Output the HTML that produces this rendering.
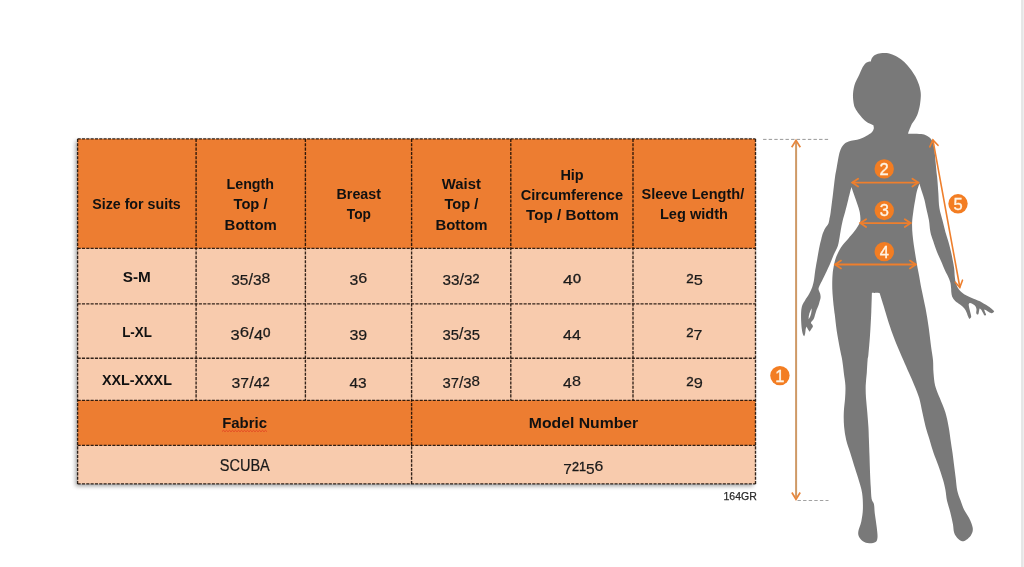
<!DOCTYPE html>
<html lang="en"><head><meta charset="utf-8"><title>Size chart</title>
<style>
html,body{margin:0;padding:0;background:#fff;}
body{width:1024px;height:567px;position:relative;overflow:hidden;font-family:"Liberation Sans",sans-serif;}
</style></head><body>
<svg width="1024" height="567" viewBox="0 0 1024 567" style="position:absolute;left:0;top:0">
<defs><filter id="sh" x="-5%" y="-5%" width="110%" height="110%"><feGaussianBlur stdDeviation="2"/></filter></defs>
<rect x="75.6" y="140.9" width="677.9" height="345.3" fill="#000" opacity="0.36" filter="url(#sh)"/>
<rect x="77.6" y="138.9" width="677.9" height="345.0" fill="#F8CBAD"/>
<rect x="77.6" y="138.9" width="677.9" height="109.4" fill="#ED7D31"/>
<rect x="77.6" y="400.3" width="677.9" height="45.1" fill="#ED7D31"/>
<g stroke="#170b05" stroke-opacity="0.88" stroke-width="1.35" stroke-dasharray="3.1 1.23" fill="none">
<path d="M77.6 138.9H755.5"/>
<path d="M77.6 248.3H755.5"/>
<path d="M77.6 303.8H755.5"/>
<path d="M77.6 358.2H755.5"/>
<path d="M77.6 400.3H755.5"/>
<path d="M77.6 445.4H755.5"/>
<path d="M77.6 483.9H755.5"/>
<path d="M77.6 138.9V483.9"/>
<path d="M196.1 138.9V400.3"/>
<path d="M305.4 138.9V400.3"/>
<path d="M411.6 138.9V483.9"/>
<path d="M510.8 138.9V400.3"/>
<path d="M633.0 138.9V400.3"/>
<path d="M755.5 138.9V483.9"/>
</g>
<g font-family="'Liberation Sans', sans-serif">
<text x="92.2" y="209.0" font-size="15.0" font-weight="700" fill="#111" textLength="88.6" lengthAdjust="spacingAndGlyphs">Size for suits</text>
<text x="226.5" y="188.5" font-size="15.0" font-weight="700" fill="#111" textLength="47.5" lengthAdjust="spacingAndGlyphs">Length</text>
<text x="233.5" y="209.0" font-size="15.0" font-weight="700" fill="#111" textLength="34.0" lengthAdjust="spacingAndGlyphs">Top /</text>
<text x="224.6" y="229.6" font-size="15.0" font-weight="700" fill="#111" textLength="52.3" lengthAdjust="spacingAndGlyphs">Bottom</text>
<text x="336.5" y="199.1" font-size="15.0" font-weight="700" fill="#111" textLength="44.5" lengthAdjust="spacingAndGlyphs">Breast</text>
<text x="346.8" y="219.4" font-size="15.0" font-weight="700" fill="#111" textLength="24.1" lengthAdjust="spacingAndGlyphs">Top</text>
<text x="441.8" y="188.6" font-size="15.0" font-weight="700" fill="#111" textLength="39.1" lengthAdjust="spacingAndGlyphs">Waist</text>
<text x="444.4" y="209.0" font-size="15.0" font-weight="700" fill="#111" textLength="33.9" lengthAdjust="spacingAndGlyphs">Top /</text>
<text x="435.4" y="229.7" font-size="15.0" font-weight="700" fill="#111" textLength="52.2" lengthAdjust="spacingAndGlyphs">Bottom</text>
<text x="560.4" y="179.6" font-size="15.0" font-weight="700" fill="#111" textLength="23.3" lengthAdjust="spacingAndGlyphs">Hip</text>
<text x="520.7" y="199.6" font-size="15.0" font-weight="700" fill="#111" textLength="102.4" lengthAdjust="spacingAndGlyphs">Circumference</text>
<text x="526.1" y="220.3" font-size="15.0" font-weight="700" fill="#111" textLength="92.7" lengthAdjust="spacingAndGlyphs">Top / Bottom</text>
<text x="641.6" y="198.9" font-size="15.0" font-weight="700" fill="#111" textLength="102.6" lengthAdjust="spacingAndGlyphs">Sleeve Length/</text>
<text x="659.9" y="219.3" font-size="15.0" font-weight="700" fill="#111" textLength="68.1" lengthAdjust="spacingAndGlyphs">Leg width</text>
<text x="122.8" y="282.2" font-size="15.0" font-weight="700" fill="#111" textLength="28.1" lengthAdjust="spacingAndGlyphs">S-M</text>
<text x="122.2" y="336.9" font-size="15.0" font-weight="700" fill="#111" textLength="29.7" lengthAdjust="spacingAndGlyphs">L-XL</text>
<text x="101.9" y="385.0" font-size="15.0" font-weight="700" fill="#111" textLength="70.0" lengthAdjust="spacingAndGlyphs">XXL-XXXL</text>
<text x="222.2" y="428.0" font-size="15.0" font-weight="700" fill="#111" textLength="44.8" lengthAdjust="spacingAndGlyphs">Fabric</text>
<text x="528.8" y="428.0" font-size="15.0" font-weight="700" fill="#111" textLength="109.4" lengthAdjust="spacingAndGlyphs">Model Number</text>
<text x="231.3" y="282.6" font-size="15.4" fill="#1a1a1a" stroke="#1a1a1a" stroke-width="0.2" textLength="39.0" lengthAdjust="spacingAndGlyphs"><tspan font-size="15.1" dy="2.8">3</tspan><tspan font-size="15.1" dy="0.0">5</tspan><tspan font-size="16.0" dy="-0.9">/</tspan><tspan font-size="15.1" dy="0.9">3</tspan><tspan font-size="15.4" dy="-2.8">8</tspan></text>
<text x="349.4" y="282.6" font-size="15.4" fill="#1a1a1a" stroke="#1a1a1a" stroke-width="0.2" textLength="17.8" lengthAdjust="spacingAndGlyphs"><tspan font-size="15.1" dy="2.8">3</tspan><tspan font-size="15.4" dy="-2.8">6</tspan></text>
<text x="442.5" y="282.6" font-size="15.4" fill="#1a1a1a" stroke="#1a1a1a" stroke-width="0.2" textLength="36.9" lengthAdjust="spacingAndGlyphs"><tspan font-size="15.1" dy="2.8">3</tspan><tspan font-size="15.1" dy="0.0">3</tspan><tspan font-size="16.0" dy="-0.9">/</tspan><tspan font-size="15.1" dy="0.9">3</tspan><tspan font-size="12.3" dy="-2.8" stroke-width="0.4">2</tspan></text>
<text x="563.1" y="282.6" font-size="15.4" fill="#1a1a1a" stroke="#1a1a1a" stroke-width="0.2" textLength="17.8" lengthAdjust="spacingAndGlyphs"><tspan font-size="15.1" dy="2.8">4</tspan><tspan font-size="12.3" dy="-2.8" stroke-width="0.4">0</tspan></text>
<text x="686.3" y="282.6" font-size="15.4" fill="#1a1a1a" stroke="#1a1a1a" stroke-width="0.2" textLength="16.5" lengthAdjust="spacingAndGlyphs"><tspan font-size="12.3" dy="0.0" stroke-width="0.4">2</tspan><tspan font-size="15.1" dy="2.8">5</tspan></text>
<text x="230.6" y="337.3" font-size="15.4" fill="#1a1a1a" stroke="#1a1a1a" stroke-width="0.2" textLength="40.0" lengthAdjust="spacingAndGlyphs"><tspan font-size="15.1" dy="2.8">3</tspan><tspan font-size="15.4" dy="-2.8">6</tspan><tspan font-size="16.0" dy="1.9">/</tspan><tspan font-size="15.1" dy="0.9">4</tspan><tspan font-size="12.3" dy="-2.8" stroke-width="0.4">0</tspan></text>
<text x="349.4" y="337.3" font-size="15.4" fill="#1a1a1a" stroke="#1a1a1a" stroke-width="0.2" textLength="17.8" lengthAdjust="spacingAndGlyphs"><tspan font-size="15.1" dy="2.8">3</tspan><tspan font-size="15.1" dy="0.0">9</tspan></text>
<text x="442.5" y="337.3" font-size="15.4" fill="#1a1a1a" stroke="#1a1a1a" stroke-width="0.2" textLength="37.5" lengthAdjust="spacingAndGlyphs"><tspan font-size="15.1" dy="2.8">3</tspan><tspan font-size="15.1" dy="0.0">5</tspan><tspan font-size="16.0" dy="-0.9">/</tspan><tspan font-size="15.1" dy="0.9">3</tspan><tspan font-size="15.1" dy="0.0">5</tspan></text>
<text x="563.1" y="337.3" font-size="15.4" fill="#1a1a1a" stroke="#1a1a1a" stroke-width="0.2" textLength="17.8" lengthAdjust="spacingAndGlyphs"><tspan font-size="15.1" dy="2.8">4</tspan><tspan font-size="15.1" dy="0.0">4</tspan></text>
<text x="686.3" y="337.3" font-size="15.4" fill="#1a1a1a" stroke="#1a1a1a" stroke-width="0.2" textLength="16.2" lengthAdjust="spacingAndGlyphs"><tspan font-size="12.3" dy="0.0" stroke-width="0.4">2</tspan><tspan font-size="15.1" dy="2.8">7</tspan></text>
<text x="231.6" y="385.6" font-size="15.4" fill="#1a1a1a" stroke="#1a1a1a" stroke-width="0.2" textLength="38.1" lengthAdjust="spacingAndGlyphs"><tspan font-size="15.1" dy="2.8">3</tspan><tspan font-size="15.1" dy="0.0">7</tspan><tspan font-size="16.0" dy="-0.9">/</tspan><tspan font-size="15.1" dy="0.9">4</tspan><tspan font-size="12.3" dy="-2.8" stroke-width="0.4">2</tspan></text>
<text x="349.4" y="385.6" font-size="15.4" fill="#1a1a1a" stroke="#1a1a1a" stroke-width="0.2" textLength="17.2" lengthAdjust="spacingAndGlyphs"><tspan font-size="15.1" dy="2.8">4</tspan><tspan font-size="15.1" dy="0.0">3</tspan></text>
<text x="442.5" y="385.6" font-size="15.4" fill="#1a1a1a" stroke="#1a1a1a" stroke-width="0.2" textLength="37.5" lengthAdjust="spacingAndGlyphs"><tspan font-size="15.1" dy="2.8">3</tspan><tspan font-size="15.1" dy="0.0">7</tspan><tspan font-size="16.0" dy="-0.9">/</tspan><tspan font-size="15.1" dy="0.9">3</tspan><tspan font-size="15.4" dy="-2.8">8</tspan></text>
<text x="563.1" y="385.6" font-size="15.4" fill="#1a1a1a" stroke="#1a1a1a" stroke-width="0.2" textLength="17.8" lengthAdjust="spacingAndGlyphs"><tspan font-size="15.1" dy="2.8">4</tspan><tspan font-size="15.4" dy="-2.8">8</tspan></text>
<text x="686.3" y="385.6" font-size="15.4" fill="#1a1a1a" stroke="#1a1a1a" stroke-width="0.2" textLength="16.5" lengthAdjust="spacingAndGlyphs"><tspan font-size="12.3" dy="0.0" stroke-width="0.4">2</tspan><tspan font-size="15.1" dy="2.8">9</tspan></text>
<text x="219.7" y="470.8" font-size="15.6" font-weight="400" fill="#1a1a1a" textLength="50.1" lengthAdjust="spacingAndGlyphs" stroke="#1a1a1a" stroke-width="0.2">SCUBA</text>
<text x="563.3" y="471.2" font-size="15.4" fill="#1a1a1a" stroke="#1a1a1a" stroke-width="0.2" textLength="40.0" lengthAdjust="spacingAndGlyphs"><tspan font-size="15.1" dy="2.8">7</tspan><tspan font-size="12.3" dy="-2.8" stroke-width="0.4">2</tspan><tspan font-size="12.3" dy="0.0" stroke-width="0.4">1</tspan><tspan font-size="15.1" dy="2.8">5</tspan><tspan font-size="15.4" dy="-2.8">6</tspan></text>
<text x="723.5" y="499.5" font-size="10.6" font-weight="400" fill="#2b2b2b" textLength="33.3" lengthAdjust="spacingAndGlyphs" stroke="#2b2b2b" stroke-width="0.25">164GR</text>
</g>
<path d="M222 431.5L223.5 430.3L225.0 431.7L226.5 430.3L228.0 431.7L229.5 430.3L231.0 431.7L232.5 430.3L234.0 431.7L235.5 430.3L237.0 431.7L238.5 430.3L240.0 431.7L241.5 430.3L243.0 431.7L244.5 430.3L246.0 431.7L247.5 430.3L249.0 431.7L250.5 430.3L252.0 431.7L253.5 430.3L255.0 431.7L256.5 430.3L258.0 431.7L259.5 430.3L261.0 431.7L262.5 430.3L264.0 431.7L265.5 430.3L267.0 431.7" stroke="#e0301e" stroke-width="0.7" fill="none"/>
<path d="M870.8 61.5C871.0 60.9 871.3 58.8 872.1 57.7C872.9 56.6 874.1 55.4 875.5 54.7C876.9 54.0 878.9 53.6 880.6 53.3C882.3 53.0 883.9 52.9 885.6 53.0C887.3 53.1 888.7 53.2 890.7 53.9C892.7 54.5 895.2 55.6 897.5 56.9C899.8 58.2 902.2 59.9 904.3 61.9C906.4 63.9 908.4 66.3 910.2 68.7C912.0 71.1 913.9 73.8 915.3 76.3C916.7 78.8 917.9 81.6 918.7 84.0C919.6 86.4 920.0 88.4 920.4 90.5C920.8 92.6 920.9 94.1 920.8 96.5C920.7 98.9 920.4 102.1 919.9 104.9C919.4 107.7 918.7 110.9 917.8 113.4C916.9 116.0 915.4 118.5 914.4 120.2C913.4 121.9 912.6 122.5 911.9 123.8C911.2 125.1 910.8 126.4 910.2 127.8C909.6 129.2 908.9 131.0 908.5 132.0C908.1 133.0 908.2 133.4 908.1 133.7C908.9 133.7 910.5 133.7 912.7 133.8C914.9 133.9 918.9 133.8 921.2 134.1C923.5 134.4 924.9 134.8 926.3 135.4C927.7 136.0 928.6 136.6 929.5 137.5C930.4 138.4 931.1 138.8 931.9 140.6C932.7 142.4 933.7 145.1 934.3 148.6C934.9 152.1 935.1 157.4 935.5 161.3C935.9 165.2 936.2 168.9 936.5 172.0C936.8 175.1 937.1 176.3 937.4 180.0C937.7 183.7 938.1 189.3 938.4 194.0C938.7 198.7 938.7 203.7 939.4 208.0C940.1 212.3 941.4 216.0 942.4 220.0C943.4 224.0 944.4 228.3 945.4 232.0C946.4 235.7 947.5 238.3 948.5 242.0C949.5 245.7 950.6 249.7 951.5 254.0C952.4 258.3 953.6 264.3 954.1 268.0C954.6 271.7 954.5 273.7 954.7 276.0C955.0 278.3 955.1 280.0 955.6 282.0C956.1 284.0 957.0 286.3 958.0 288.0C959.0 289.7 960.1 290.9 961.6 292.2C963.1 293.5 965.0 294.7 967.0 295.8C969.0 296.9 971.1 297.7 973.6 298.8C976.1 299.9 979.4 301.0 982.0 302.4C984.6 303.8 987.6 305.7 989.4 307.0C991.2 308.3 992.2 309.2 993.0 310.0C993.8 310.8 994.0 311.2 994.2 311.5C993.8 311.8 992.7 313.2 991.8 313.3C990.9 313.4 989.8 312.7 988.8 312.1C987.8 311.6 986.6 310.4 985.8 310.0C985.0 309.6 984.3 309.5 984.0 309.4C984.2 309.9 984.9 311.5 985.2 312.4C985.6 313.3 986.2 314.3 986.1 314.8C986.0 315.3 985.2 315.8 984.6 315.4C984.0 315.0 983.4 313.4 982.8 312.4C982.2 311.4 981.5 310.0 981.0 309.4C980.5 308.8 979.8 308.6 979.5 308.5C979.4 309.1 979.1 310.9 978.9 311.8C978.7 312.8 978.6 313.8 978.3 314.2C977.9 314.6 977.1 314.5 976.8 314.2C976.4 313.9 976.2 313.2 976.2 312.4C976.2 311.6 976.6 310.4 976.5 309.4C976.4 308.4 976.2 307.3 975.6 306.4C975.0 305.5 973.6 304.6 972.6 304.0C971.6 303.4 970.1 303.2 969.6 303.1C969.5 303.4 968.7 303.6 968.7 304.6C968.7 305.7 969.2 307.8 969.6 309.4C970.0 311.0 970.5 312.9 970.8 314.2C971.0 315.5 971.4 316.4 971.1 317.2C970.9 318.0 969.6 318.7 969.3 319.0C969.1 318.6 968.5 317.7 968.1 316.6C967.7 315.5 967.2 313.8 966.6 312.4C966.0 311.0 965.3 309.5 964.2 308.2C963.1 306.9 961.5 305.8 960.0 304.6C958.5 303.4 956.5 302.3 955.2 301.0C953.9 299.7 952.9 298.3 952.2 296.8C951.6 295.3 951.5 293.5 951.3 292.0C951.1 290.5 951.3 289.7 951.1 288.0C950.9 286.3 950.8 284.0 950.2 282.0C949.7 280.0 948.7 278.0 947.8 276.0C946.9 274.0 945.9 272.5 944.8 270.0C943.7 267.5 942.3 264.0 941.0 261.0C939.7 258.0 938.3 255.3 937.0 252.0C935.7 248.7 934.3 244.3 933.2 241.0C932.1 237.7 931.1 235.5 930.4 232.0C929.7 228.5 929.6 224.0 928.9 220.0C928.2 216.0 926.9 211.3 926.2 208.0C925.5 204.7 925.2 202.7 924.5 200.0C923.8 197.3 922.9 194.7 922.0 192.0C921.1 189.3 919.8 185.0 919.4 183.6C919.0 184.9 917.5 188.7 916.8 191.4C916.1 194.1 915.8 196.7 915.2 200.0C914.6 203.3 913.9 207.3 913.4 211.1C912.9 214.9 912.2 219.0 912.1 223.0C912.0 227.0 912.2 230.8 912.6 234.9C913.0 239.0 913.5 242.8 914.2 247.6C914.9 252.4 916.0 258.7 916.8 263.5C917.6 268.3 918.4 271.9 919.2 276.2C920.0 280.5 920.5 284.1 921.6 289.5C922.7 294.9 924.4 302.2 925.6 308.6C926.8 315.0 927.8 321.2 928.7 327.6C929.6 334.0 930.4 341.3 931.1 346.7C931.8 352.1 932.6 355.7 933.0 360.0C933.4 364.3 933.1 368.5 933.5 372.7C933.9 376.9 934.1 381.2 935.1 385.4C936.1 389.6 938.1 393.6 939.8 398.1C941.5 402.6 943.9 407.6 945.4 412.4C946.9 417.2 947.8 422.2 948.6 426.7C949.5 431.2 949.9 435.1 950.5 439.4C951.1 443.7 951.9 448.4 952.5 452.7C953.1 457.0 953.6 461.2 954.1 465.4C954.6 469.6 955.2 473.9 955.7 478.1C956.2 482.3 956.5 487.1 957.3 490.8C958.1 494.5 959.3 497.1 960.5 500.3C961.7 503.6 962.9 507.3 964.4 510.3C965.9 513.3 967.8 515.4 969.2 518.3C970.6 521.2 972.3 525.2 972.7 527.8C973.1 530.4 972.5 532.2 971.6 534.1C970.8 536.0 969.2 537.7 967.6 538.9C966.0 540.1 963.8 541.4 962.1 541.3C960.4 541.2 958.6 539.5 957.3 538.1C956.0 536.7 954.8 534.9 954.1 532.6C953.4 530.4 953.6 528.1 953.0 524.6C952.4 521.1 951.2 515.9 950.2 511.9C949.2 507.9 947.8 504.5 947.0 500.8C946.2 497.1 946.1 493.2 945.4 489.7C944.7 486.2 944.2 483.8 943.0 479.7C941.8 475.6 939.9 469.9 938.3 465.4C936.7 460.9 935.0 457.0 933.5 452.7C932.0 448.4 930.8 443.7 929.5 439.4C928.2 435.1 926.8 431.2 925.6 426.7C924.4 422.2 923.5 417.2 922.4 412.4C921.3 407.6 920.5 402.6 919.2 398.1C917.9 393.6 916.1 389.6 914.4 385.4C912.7 381.2 910.8 376.9 908.9 372.7C907.0 368.5 905.4 364.9 903.3 360.0C901.2 355.1 898.5 349.2 896.2 343.5C894.0 337.8 891.9 332.4 889.8 326.0C887.7 319.6 885.2 310.9 883.5 305.4C881.8 299.9 880.3 295.2 879.7 293.2C878.4 293.1 873.2 292.9 871.9 292.8C871.8 295.9 871.6 304.6 871.3 311.7C871.0 318.8 870.5 328.5 870.0 335.6C869.5 342.8 868.8 350.5 868.4 354.6C868.0 358.7 867.9 357.0 867.6 360.0C867.3 363.0 867.1 368.5 866.8 372.7C866.5 376.9 865.8 381.2 865.7 385.4C865.6 389.6 865.7 393.6 866.0 398.1C866.3 402.6 866.9 407.6 867.3 412.4C867.7 417.2 868.1 422.2 868.4 426.7C868.7 431.2 868.7 434.5 868.9 439.4C869.1 444.3 869.3 450.5 869.5 455.9C869.7 461.3 869.8 466.4 870.0 471.7C870.2 477.0 870.5 483.1 870.8 487.6C871.1 492.1 871.1 495.9 871.6 498.7C872.1 501.5 873.5 501.8 874.0 504.3C874.5 506.8 874.3 509.6 874.8 513.5C875.3 517.4 876.3 523.8 876.8 527.8C877.2 531.8 877.7 534.9 877.5 537.3C877.3 539.7 877.0 541.1 875.6 542.1C874.2 543.1 871.3 543.4 869.2 543.3C867.1 543.2 864.6 542.4 862.9 541.3C861.2 540.2 859.6 538.2 858.9 536.5C858.1 534.8 858.0 533.5 858.4 531.0C858.8 528.5 860.5 525.1 861.3 521.4C862.0 517.7 862.8 513.5 862.9 508.7C863.0 503.9 862.9 498.0 862.1 492.9C861.3 487.8 859.4 482.7 858.1 478.1C856.8 473.5 855.4 469.6 854.1 465.4C852.8 461.2 851.5 456.9 850.2 452.7C848.9 448.5 847.2 444.3 846.2 440.0C845.2 435.7 844.5 431.3 844.1 426.7C843.7 422.1 843.6 417.2 843.8 412.4C844.0 407.6 844.8 402.6 845.1 398.1C845.4 393.6 845.6 389.6 845.4 385.4C845.2 381.2 844.3 376.9 843.8 372.7C843.3 368.5 842.9 364.1 842.2 360.0C841.5 355.9 840.7 353.2 839.8 348.3C838.9 343.4 837.6 336.5 836.7 330.8C835.9 325.1 835.2 318.0 834.7 314.0C834.2 310.0 834.1 309.7 833.8 307.0C833.5 304.3 833.1 301.0 832.9 298.0C832.6 295.0 832.4 292.0 832.3 289.0C832.2 286.0 832.2 282.7 832.3 280.0C832.4 277.3 832.5 275.2 832.7 273.0C832.9 270.8 833.2 269.3 833.6 267.0C834.0 264.7 834.6 261.7 835.4 259.2C836.2 256.7 837.3 254.2 838.4 252.0C839.5 249.8 840.4 248.2 842.0 246.0C843.6 243.8 846.0 241.4 848.0 239.0C850.0 236.6 852.3 234.0 854.0 231.8C855.7 229.6 857.0 227.8 858.0 226.0C859.0 224.2 860.0 223.3 860.3 221.0C860.6 218.7 860.2 214.8 859.7 212.0C859.2 209.2 858.0 206.2 857.3 204.0C856.6 201.8 856.6 201.8 855.6 199.0C854.6 196.2 852.1 189.0 851.4 187.0C850.9 189.0 849.4 194.8 848.4 199.0C847.4 203.2 846.1 208.3 845.1 212.0C844.1 215.7 843.3 218.0 842.6 221.0C841.9 224.0 841.3 227.3 840.8 230.0C840.3 232.7 840.1 234.5 839.6 237.2C839.1 239.9 838.8 243.0 837.8 246.0C836.8 249.0 834.9 252.0 833.6 255.0C832.3 258.0 831.3 261.0 830.0 264.0C828.7 267.0 827.1 270.3 825.8 273.0C824.5 275.7 823.4 278.0 822.4 280.0C821.4 282.0 820.6 283.3 820.0 284.8C819.4 286.3 818.5 287.6 818.5 289.0C818.5 290.4 819.6 291.8 820.0 293.2C820.4 294.6 820.7 295.9 820.6 297.4C820.5 298.9 819.7 300.9 819.4 302.2C819.1 303.5 819.1 303.5 818.6 305.0C818.1 306.5 817.0 308.7 816.2 311.0C815.4 313.3 814.6 317.1 813.8 318.8C813.0 320.6 812.1 320.8 811.6 321.5C811.1 322.2 810.9 322.4 811.0 323.0C811.1 323.6 812.0 324.2 812.3 324.8C812.6 325.4 813.0 325.9 812.9 326.6C812.8 327.3 811.9 328.1 811.4 329.0C810.9 329.9 809.9 331.2 809.6 331.7C809.3 331.2 808.3 329.9 807.8 329.0C807.3 328.1 806.8 327.0 806.6 326.6C806.5 327.0 806.0 327.8 805.7 329.0C805.5 330.2 805.4 332.6 805.1 333.8C804.9 335.0 804.4 335.8 804.2 336.2C804.0 335.9 803.4 335.6 803.0 334.4C802.6 333.2 802.1 331.4 801.8 329.0C801.5 326.6 801.2 323.0 801.1 320.0C801.0 317.0 801.0 313.5 801.2 311.0C801.4 308.5 801.8 306.8 802.4 305.0C803.0 303.2 803.9 302.3 805.0 300.4C806.1 298.5 808.0 296.0 809.2 293.8C810.4 291.6 811.4 289.5 812.2 287.2C813.0 284.9 813.5 282.9 814.0 280.0C814.5 277.1 814.7 273.7 815.3 270.0C815.9 266.3 816.7 262.0 817.4 258.0C818.1 254.0 819.0 249.0 819.6 246.0C820.2 243.0 820.5 242.2 821.0 240.2C821.5 238.2 821.8 236.2 822.5 234.2C823.2 232.2 824.2 229.9 825.2 228.2C826.2 226.5 827.5 225.5 828.2 224.0C828.9 222.5 829.0 221.2 829.4 219.2C829.8 217.2 830.1 216.4 830.7 212.0C831.3 207.6 832.4 198.7 833.1 193.0C833.8 187.3 834.3 182.2 834.9 178.0C835.5 173.8 835.9 172.0 836.7 167.6C837.5 163.2 838.6 155.5 839.8 151.7C841.0 147.9 842.3 146.3 843.8 144.6C845.3 142.9 846.0 142.3 848.6 141.4C851.2 140.5 856.8 139.9 859.7 139.0C862.6 138.1 864.7 136.7 866.2 136.0C867.7 135.3 867.7 135.3 868.7 134.6C869.7 133.9 871.2 133.0 872.1 132.0C873.0 131.0 873.6 129.7 873.8 128.6C874.0 127.5 873.5 125.8 873.4 125.3C872.8 125.0 871.1 124.4 869.6 123.6C868.1 122.8 866.1 121.6 864.5 120.2C862.9 118.8 861.1 116.7 859.8 115.1C858.5 113.5 857.4 112.0 856.5 110.5C855.6 109.0 854.8 107.8 854.2 106.0C853.7 104.2 853.4 102.0 853.2 100.0C853.0 98.0 852.9 96.0 853.0 94.0C853.1 92.0 853.4 89.9 853.8 88.0C854.2 86.1 854.6 84.5 855.4 82.5C856.2 80.5 857.4 78.6 858.5 76.3C859.6 74.0 860.8 70.8 861.9 68.7C863.0 66.6 864.3 64.7 865.3 63.6C866.3 62.5 867.0 62.2 867.9 61.9C868.8 61.5 870.3 61.6 870.8 61.5Z" fill="#797979"/>
<path d="M811.6 308.2C810 311.5 808.3 315.5 808.6 319.2C810.3 317 811.9 312.5 811.6 308.2Z" fill="#fff"/>
<rect x="1021" y="0" width="3" height="567" fill="#eeeeee"/>
<rect x="1021.4" y="0" width="1.4" height="567" fill="#e3e3e3"/>
<path d="M763.1 139.4H829.3" stroke="#8c8c8c" stroke-width="0.9" stroke-dasharray="3.4 2.2" fill="none"/>
<path d="M797.5 500.5H828.5" stroke="#979797" stroke-width="0.9" stroke-dasharray="3.4 2.2" fill="none"/>
<g stroke="#cf9a66" stroke-width="2" fill="none" stroke-linecap="butt" stroke-linejoin="miter">
<path d="M796.1 142V497.5"/>
<path d="M791.7 147.3L796 140.3L800.3 147.3" stroke="#e8863c" stroke-width="1.7"/>
<path d="M791.9 492.5L796 499.3L800.2 492.5" stroke="#e8863c" stroke-width="1.7"/>
</g>
<g stroke="#ee7f2d" stroke-width="1.8" fill="none" stroke-linecap="round" stroke-linejoin="miter">
<path d="M852.3 182.6H918.2"/>
<path d="M858.1 178.7L852.3 182.6L858.1 186.5"/>
<path d="M912.4 178.7L918.2 182.6L912.4 186.5"/>
<path d="M860.3 223.1H910.6"/>
<path d="M866.1 219.2L860.3 223.1L866.1 227.0"/>
<path d="M904.8 219.2L910.6 223.1L904.8 227.0"/>
<path d="M835.2 264.5H915.7"/>
<path d="M841.0 260.6L835.2 264.5L841.0 268.4"/>
<path d="M909.9 260.6L915.7 264.5L909.9 268.4"/>
<path d="M933 140.4L959.8 287" stroke-width="1.6"/>
<path d="M929.8 146.8L932.9 139.9L938 145.3" stroke-width="1.6"/>
<path d="M955.3 282.2L959.8 287.4L962.5 280.2" stroke-width="1.6"/>
</g>
<g font-family="'Liberation Sans', sans-serif" font-weight="400" font-size="16.5" fill="#fff4e4" stroke="#fff4e4" stroke-width="0.35" text-anchor="middle">
<circle cx="779.9" cy="375.6" r="9.7" fill="#f37d22" stroke="none"/>
<text x="779.9" y="381.5">1</text>
<circle cx="884.2" cy="168.9" r="9.7" fill="#f37d22" stroke="none"/>
<text x="884.2" y="174.8">2</text>
<circle cx="884.3" cy="210.5" r="9.7" fill="#f37d22" stroke="none"/>
<text x="884.3" y="216.4">3</text>
<circle cx="884.3" cy="251.6" r="9.7" fill="#f37d22" stroke="none"/>
<text x="884.3" y="257.5">4</text>
<circle cx="958.0" cy="203.8" r="9.7" fill="#f37d22" stroke="none"/>
<text x="958.0" y="209.7">5</text>
</g>
</svg>
</body></html>
